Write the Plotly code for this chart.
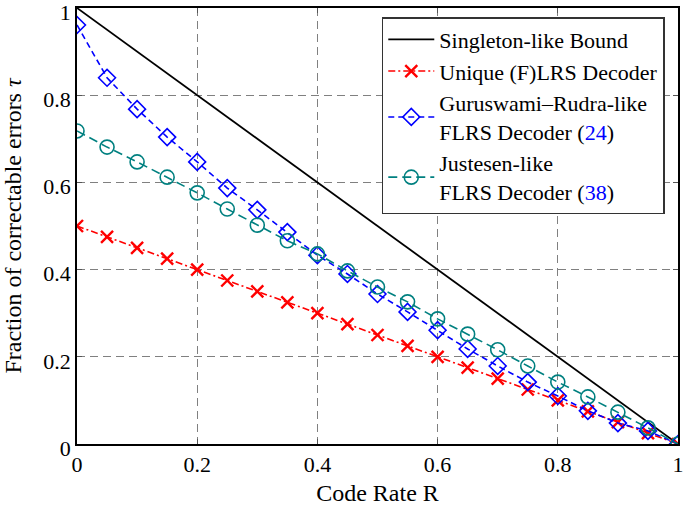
import plotly.graph_objects as go

R = [0, 0.05, 0.1, 0.15, 0.2, 0.25, 0.3, 0.35, 0.4, 0.45, 0.5,
     0.55, 0.6, 0.65, 0.7, 0.75, 0.8, 0.85, 0.9, 0.95, 1.0]
singleton_x = [0, 1]
singleton_y = [1, 0]
unique = [0.5, 0.475, 0.45, 0.425, 0.4, 0.375, 0.35, 0.325, 0.3, 0.275, 0.25,
          0.225, 0.2, 0.175, 0.15, 0.125, 0.1, 0.075, 0.05, 0.025, 0.0]
gr = [0.961, 0.84, 0.768, 0.704, 0.647, 0.587, 0.537, 0.486, 0.433, 0.39, 0.344,
      0.303, 0.261, 0.218, 0.179, 0.142, 0.11, 0.076, 0.048, 0.03, 0.0]
justesen = [0.718, 0.681, 0.647, 0.612, 0.576, 0.539, 0.502, 0.466, 0.436, 0.397, 0.36,
            0.326, 0.287, 0.252, 0.216, 0.179, 0.142, 0.108, 0.073, 0.037, 0.0]
tickvals = [0, 0.2, 0.4, 0.6, 0.8, 1]
ticktext = ["0", "0.2", "0.4", "0.6", "0.8", "1"]

FONT = "Liberation Serif"
TEAL = "#008080"

fig = go.Figure()
fig.add_trace(go.Scatter(x=singleton_x, y=singleton_y, mode="lines",
                         line=dict(color="black", width=1.8),
                         name="Singleton-like Bound"))
fig.add_trace(go.Scatter(x=R, y=unique, mode="lines+markers",
                         line=dict(color="red", width=1.6, dash="7px,3px,2px,3px"),
                         marker=dict(symbol="x-thin-open", size=12, color="red",
                                     line=dict(color="red", width=2.4)),
                         name="Unique (F)LRS Decoder"))
fig.add_trace(go.Scatter(x=R, y=gr, mode="lines+markers",
                         line=dict(color="blue", width=1.6, dash="6px,4px"),
                         marker=dict(symbol="diamond-open", size=13, color="blue",
                                     line=dict(color="blue", width=1.6)),
                         name="Guruswami–Rudra-like<br>FLRS Decoder (<span style='color:blue'>24</span>)"))
fig.add_trace(go.Scatter(x=R, y=justesen, mode="lines+markers",
                         line=dict(color=TEAL, width=1.6, dash="9px,5px"),
                         marker=dict(symbol="circle-open", size=14, color=TEAL,
                                     line=dict(color=TEAL, width=1.6)),
                         name="Justesen-like<br>FLRS Decoder (<span style='color:blue'>38</span>)"))

axis_common = dict(
    range=[0, 1], tickvals=tickvals, ticktext=ticktext,
    showline=True, linecolor="black", linewidth=1.5, mirror="ticks",
    ticks="inside", ticklen=5, tickcolor="#555",
    showgrid=True, gridcolor="#808080", griddash="8px,5px", gridwidth=1,
    zeroline=False, tickfont=dict(family=FONT, size=22, color="black"),
    automargin=False, ticklabeloverflow="allow",
)

fig.update_layout(
    width=685, height=506,
    margin=dict(l=77, r=7, t=8, b=62),
    paper_bgcolor="white", plot_bgcolor="white",
    font=dict(family=FONT, color="black"),
    xaxis=dict(**axis_common, title=dict(text="Code Rate R",
                                         font=dict(family=FONT, size=24), standoff=8)),
    yaxis=dict(**axis_common, ticklabelshift=4,
               title=dict(text="Fraction of correctable errors <i>τ</i>",
                          font=dict(family=FONT, size=24), standoff=17)),
    legend=dict(x=0.978, y=0.979, xanchor="right", yanchor="top",
                bgcolor="white", bordercolor="#333", borderwidth=1.5,
                font=dict(family=FONT, size=22, color="black"),
                tracegroupgap=0, itemwidth=46),
    showlegend=True,
)

fig.write_html("out.html", config={"displayModeBar": False},
               post_script="document.body.style.margin='0';document.body.style.padding='0';")
